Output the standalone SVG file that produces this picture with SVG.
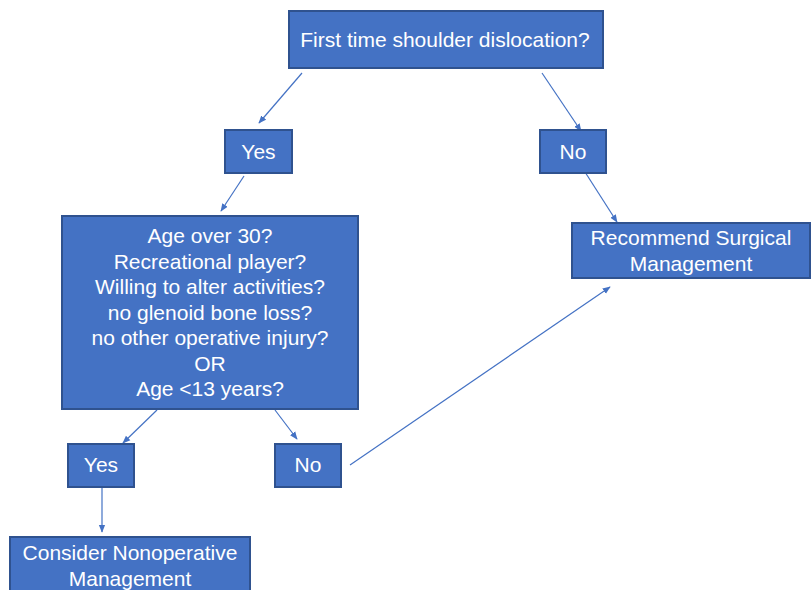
<svg xmlns="http://www.w3.org/2000/svg" width="811" height="590" viewBox="0 0 811 590">
<defs>
<style>
.box{fill:#4472C4;stroke:#2F528F;stroke-width:2}
.t{font-family:"Liberation Sans",Arial,sans-serif;font-size:21px;fill:#FFFFFF;text-anchor:middle}
.c{stroke:#4472C4;stroke-width:1.2;fill:none;marker-end:url(#ah)}
</style>
<marker id="ah" viewBox="0 0 10 10" refX="9" refY="5" markerWidth="8" markerHeight="8" markerUnits="userSpaceOnUse" orient="auto">
<path d="M0,1 L10,5 L0,9 Z" fill="#4472C4"/>
</marker>
</defs>
<rect width="811" height="590" fill="#FFFFFF"/>
<g id="connectors">
<line class="c" x1="302" y1="73" x2="259" y2="123"/>
<line class="c" x1="542" y1="73" x2="581" y2="131"/>
<line class="c" x1="244" y1="176" x2="221" y2="211"/>
<line class="c" x1="585" y1="172" x2="617" y2="222"/>
<line class="c" x1="157" y1="410" x2="123" y2="443"/>
<line class="c" x1="275" y1="410" x2="297" y2="439"/>
<line class="c" x1="102" y1="487" x2="102" y2="532"/>
<line class="c" x1="350" y1="465" x2="610" y2="287"/>
</g>
<g id="n1"><rect class="box" x="289" y="11" width="314" height="57"/><text class="t" x="445" y="47">First time shoulder dislocation?</text></g>
<g id="n2"><rect class="box" x="225" y="130" width="67" height="43"/><text class="t" x="258.5" y="159">Yes</text></g>
<g id="n3"><rect class="box" x="540" y="130" width="66" height="43"/><text class="t" x="573" y="159">No</text></g>
<g id="n4"><rect class="box" x="62" y="216" width="296" height="193"/>
<text class="t" x="210" y="243">Age over 30?</text>
<text class="t" x="210" y="269">Recreational player?</text>
<text class="t" x="210" y="294">Willing to alter activities?</text>
<text class="t" x="210" y="320">no glenoid bone loss?</text>
<text class="t" x="210" y="345">no other operative injury?</text>
<text class="t" x="210" y="371">OR</text>
<text class="t" x="210" y="396">Age &lt;13 years?</text>
</g>
<g id="n5"><rect class="box" x="572" y="223" width="238" height="55"/>
<text class="t" x="691" y="245">Recommend Surgical</text>
<text class="t" x="691" y="271">Management</text></g>
<g id="n6"><rect class="box" x="68" y="444" width="66" height="43"/><text class="t" x="101" y="472">Yes</text></g>
<g id="n7"><rect class="box" x="275" y="444" width="66" height="43"/><text class="t" x="308" y="472">No</text></g>
<g id="n8"><rect class="box" x="10" y="537" width="240" height="60"/>
<text class="t" x="130" y="560">Consider Nonoperative</text>
<text class="t" x="130" y="586">Management</text></g>
</svg>
